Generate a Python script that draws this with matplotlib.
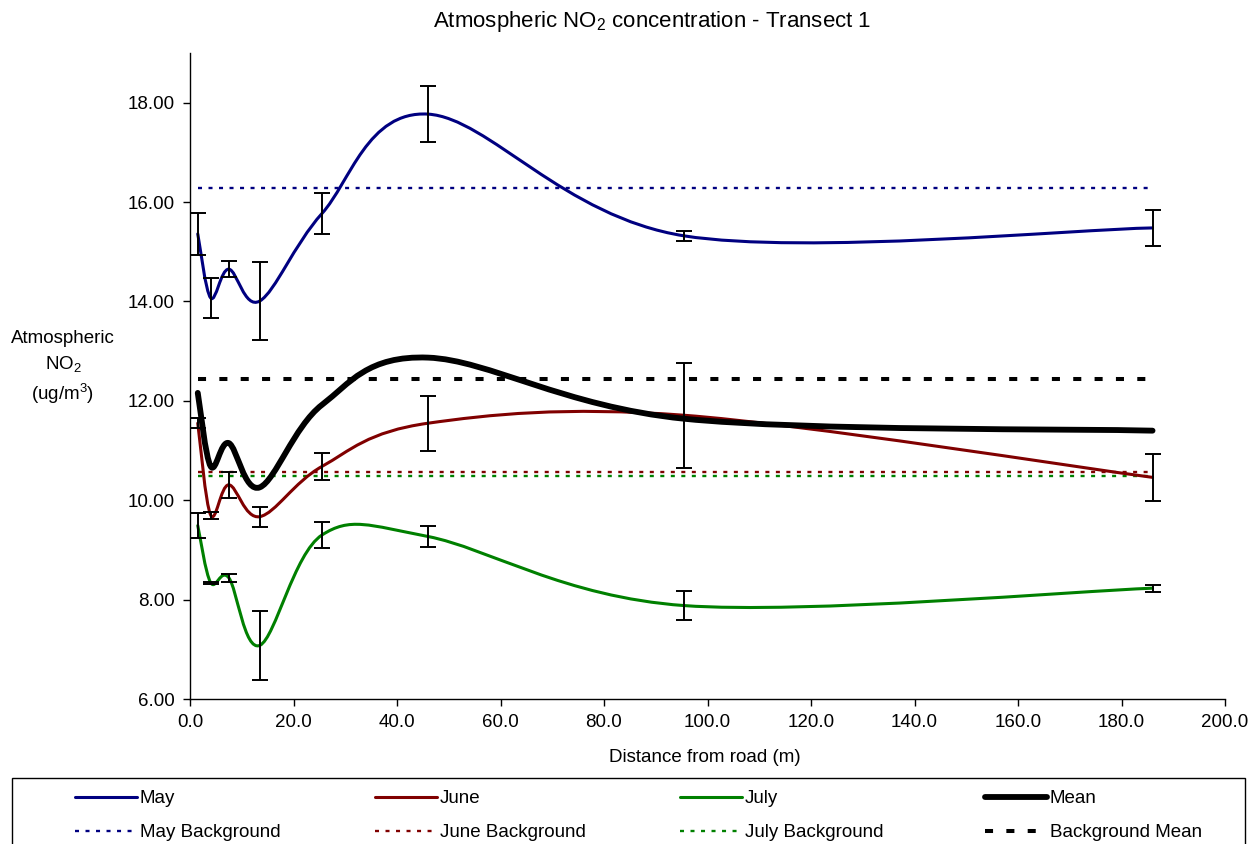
import matplotlib
matplotlib.use("Agg")
import matplotlib.pyplot as plt
import numpy as np
from matplotlib.path import Path
from matplotlib.patches import PathPatch, Rectangle
from matplotlib.lines import Line2D

plt.rcParams['font.family'] = ['Liberation Sans', 'DejaVu Sans']
plt.rcParams['mathtext.fontset'] = 'custom'
plt.rcParams['mathtext.rm'] = 'Liberation Sans'
plt.rcParams['mathtext.it'] = 'Liberation Sans:italic'

# distance from road (m)
distance = [1.5, 4.0, 7.5, 13.5, 25.5, 46.0, 95.5, 186.0]

may = [15.36, 14.07, 14.65, 14.01, 15.77, 17.77, 15.32, 15.48]
may_err = [0.42, 0.40, 0.16, 0.79, 0.42, 0.57, 0.10, 0.37]
june = [11.55, 9.70, 10.31, 9.67, 10.68, 11.55, 11.71, 10.46]
june_err = [0.10, 0.07, 0.26, 0.20, 0.27, 0.55, 1.06, 0.47]
july = [9.49, 8.34, 8.44, 7.08, 9.30, 9.27, 7.88, 8.23]
july_err = [0.26, 0.02, 0.08, 0.70, 0.26, 0.21, 0.30, 0.07]
mean = [12.16, 10.68, 11.15, 10.26, 11.92, 12.87, 11.64, 11.40]

may_bg = 16.28
june_bg = 10.57
july_bg = 10.48
bg_mean = 12.44

C_MAY = '#000080'
C_JUNE = '#800000'
C_JULY = '#008000'
FS = 13.5


def smooth_path(x, y):
    # excel-like smoothed line: cubic bezier through every point
    pts = np.column_stack([x, y]).astype(float)
    n = len(pts)
    verts = [pts[0]]
    codes = [Path.MOVETO]
    for i in range(n - 1):
        p0 = pts[max(i - 1, 0)]
        p1 = pts[i]
        p2 = pts[i + 1]
        p3 = pts[min(i + 2, n - 1)]
        verts += [p1 + (p2 - p0) / 6, p2 - (p3 - p1) / 6, p2]
        codes += [Path.CURVE4] * 3
    return Path(verts, codes)


def draw_curve(ax, x, y, color, lw, z=3):
    patch = PathPatch(smooth_path(x, y), fill=False, edgecolor=color,
                      lw=lw, capstyle='round', joinstyle='round', zorder=z)
    ax.add_patch(patch)


fig = plt.figure(figsize=(12.57, 8.44), dpi=100)
ax = fig.add_axes([190 / 1257, 1 - 699 / 844, 1035 / 1257, 646 / 844])

dot = (1.7, 2.75)
bg_dash = (2.0, 3.3)
bg_styles = [(may_bg, C_MAY, 1.7, dot), (june_bg, C_JUNE, 1.7, dot),
             (july_bg, C_JULY, 1.7, dot), (bg_mean, 'black', 2.9, bg_dash)]
for val, col, lw, dashes in bg_styles:
    ax.plot([distance[0], distance[-1]], [val, val], color=col, lw=lw,
            dashes=dashes, dash_capstyle='butt', zorder=2)

draw_curve(ax, distance, may, C_MAY, 2.2)
draw_curve(ax, distance, june, C_JUNE, 2.2)
draw_curve(ax, distance, july, C_JULY, 2.2)
draw_curve(ax, distance, mean, 'black', 4.2, z=4)

for vals, errs in [(may, may_err), (june, june_err), (july, july_err)]:
    ax.errorbar(distance, vals, yerr=errs, fmt='none', ecolor='black',
                elinewidth=1.4, capsize=5.5, capthick=1.4, zorder=5)

ax.set_xlim(0, 200)
ax.set_ylim(6, 19)
ax.set_xticks(np.arange(0, 201, 20))
ax.set_yticks(np.arange(6, 19, 2))
ax.xaxis.set_major_formatter(matplotlib.ticker.FormatStrFormatter('%.1f'))
ax.yaxis.set_major_formatter(matplotlib.ticker.FormatStrFormatter('%.2f'))
ax.tick_params(labelsize=FS, direction='out', length=5, width=1, pad=6)
for s in ['top', 'right']:
    ax.spines[s].set_visible(False)
for s in ['left', 'bottom']:
    ax.spines[s].set_linewidth(1)

fig.text(652 / 1257, 1 - 21 / 844,
         'Atmospheric NO$_2$ concentration - Transect 1',
         ha='center', va='center', fontsize=16)
fig.text(63 / 1257, 1 - 368 / 844, 'Atmospheric\nNO$_2$\n(ug/m$^3$)',
         ha='center', va='center', fontsize=FS, linespacing=1.45)
fig.text(705 / 1257, 1 - 757 / 844, 'Distance from road (m)',
         ha='center', va='center', fontsize=FS)

# legend frame runs off the bottom of the picture
fig.patches.append(Rectangle((12 / 1257, -0.1), 1233 / 1257, 0.1 + 66 / 844,
                             transform=fig.transFigure, fill=False,
                             edgecolor='black', lw=1))

columns = [
    ('May', C_MAY, 2.2, 'May Background', C_MAY, 1.7, dot),
    ('June', C_JUNE, 2.2, 'June Background', C_JUNE, 1.7, dot),
    ('July', C_JULY, 2.2, 'July Background', C_JULY, 1.7, dot),
    ('Mean', 'black', 4.2, 'Background Mean', 'black', 2.9, bg_dash),
]
col_x = [75, 375, 680, 985]
for cx, (l1, c1, w1, l2, c2, w2, d2) in zip(col_x, columns):
    h1 = Line2D([], [], color=c1, lw=w1, solid_capstyle='round')
    h2 = Line2D([], [], color=c2, lw=w2, dashes=d2, dash_capstyle='butt')
    fig.legend([h1, h2], [l1, l2], loc='upper left',
               bbox_to_anchor=(cx / 1257, 1 - 790 / 844),
               frameon=False, fontsize=FS, borderpad=0,
               borderaxespad=0, handlelength=3.3, handletextpad=0.15,
               labelspacing=0.9)

fig.savefig('out.png', dpi=100)
